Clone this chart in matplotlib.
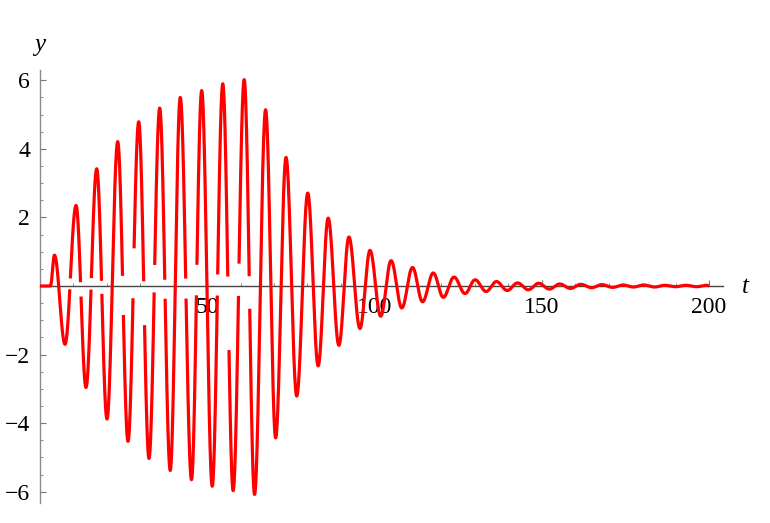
import matplotlib
matplotlib.use("Agg")
import matplotlib.pyplot as plt
import numpy as np

# turning points of the curve (t, y)
t_nodes = [0.0, 3.2,
           4.4, 7.56, 10.85, 13.83, 17.03, 20.1, 23.3, 26.38, 29.58, 32.65,
           35.85, 39.0, 42.0, 45.35, 48.4, 51.55, 54.7, 57.8, 61.1, 64.2,
           67.5, 70.5, 73.6, 76.8, 80.1, 83.2, 86.2, 89.4, 92.4, 95.7,
           98.7, 101.9, 105.0, 108.2, 111.4, 114.4, 117.6, 120.6, 123.8, 127.1,
           130.1, 133.4, 136.5, 139.7, 142.8, 146.0, 149.1, 152.3, 155.4, 158.6,
           161.7, 164.9, 168.0, 171.2, 174.3, 177.4, 180.5, 183.7, 186.8, 190.0,
           193.1, 196.3, 199.4, 200.0]
y_nodes = [0.0, 0.0,
           0.90, -1.70, 2.35, -2.96, 3.42, -3.88, 4.21, -4.53, 4.79, -5.03,
           5.19, -5.38, 5.50, -5.65, 5.70, -5.84, 5.90, -5.97, 6.02, -6.08,
           5.14, -4.43, 3.75, -3.21, 2.71, -2.33, 1.98, -1.73, 1.43, -1.24,
           1.04, -0.88, 0.74, -0.64, 0.54, -0.46, 0.38, -0.33, 0.26, -0.22,
           0.18, -0.16, 0.13, -0.13, 0.09, -0.11, 0.08, -0.09, 0.06, -0.07,
           0.05, -0.05, 0.04, -0.04, 0.03, -0.03, 0.03, -0.03, 0.02, -0.02,
           0.02, -0.02, 0.02, 0.0]

# gaps in the line at the zero crossings of the growing part
# (lower end, upper end) for the crossings after P1, T1, P2, ...
gap_lo = [0.0, -0.02, -0.21, -0.02, -0.10, 0.0, -0.70, -0.13, -1.12, -0.13,
          -0.17, 0.0, -0.17, -0.17, -0.02, -0.17, -1.74, -0.17, -0.55]
gap_hi = [0.0, 0.13, 0.10, 0.12, 0.12, 0.0, 0.15, 1.03, 0.12, 0.40,
          0.12, 0.0, 0.15, 0.58, 0.10, 0.22, 0.15, 0.40, 0.22]

x_ticks = [50, 100, 150, 200]
y_ticks = [-6, -4, -2, 2, 4, 6]

plt.rcParams['font.family'] = ['Liberation Serif', 'DejaVu Serif']

# half-cosine between turning points
tt = []
yy = []
for i in range(len(t_nodes) - 1):
    s = np.linspace(0, 1, 60, endpoint=False)
    seg_t = t_nodes[i] + (t_nodes[i + 1] - t_nodes[i]) * s
    seg_y = y_nodes[i] + (y_nodes[i + 1] - y_nodes[i]) * (1 - np.cos(np.pi * s)) / 2
    k = i - 2
    if 0 <= k < len(gap_lo) and gap_hi[k] > gap_lo[k]:
        seg_y = np.where((seg_y > gap_lo[k]) & (seg_y < gap_hi[k]), np.nan, seg_y)
    tt.append(seg_t)
    yy.append(seg_y)
tt.append([t_nodes[-1]])
yy.append([y_nodes[-1]])
tt = np.concatenate(tt)
yy = np.concatenate(yy)

fig = plt.figure(figsize=(7.7, 5.23), dpi=100)
ax = fig.add_axes([0.0516, 0.0382, 0.8874, 0.8279])

ax.plot(tt, yy, color='#ff0000', lw=2.3, zorder=3, solid_capstyle='butt')

ax.set_xlim(0, 204.2)
ax.set_ylim(-6.33, 6.30)

ax.spines['top'].set_visible(False)
ax.spines['right'].set_visible(False)
ax.spines['bottom'].set_position(('data', 0))
ax.spines['bottom'].set_color('#444444')
ax.spines['left'].set_color('#8a8a8a')
ax.spines['bottom'].set_linewidth(1.0)
ax.spines['left'].set_linewidth(1.0)

ax.set_xticks(x_ticks)
ax.set_xticks(np.arange(10, 201, 10), minor=True)
ax.set_yticks(y_ticks)
ax.set_yticks(np.arange(-6, 6.01, 0.5), minor=True)
ax.set_yticklabels([f"{v}".replace('-', '\u2212') for v in y_ticks])

ax.tick_params(axis='both', which='major', direction='in', length=4.5,
               width=0.8, color='#777777', labelsize=17)
ax.tick_params(axis='both', which='minor', direction='in', length=2.5,
               width=0.6, color='#777777')
ax.tick_params(axis='x', pad=8)
ax.tick_params(axis='y', pad=7)

ax.text(0.0, 1.058, 'y', transform=ax.transAxes, fontsize=18,
        style='italic', ha='center', va='center')
ax.text(1.027, 0.5, 't', transform=ax.transAxes, fontsize=18,
        style='italic', ha='left', va='center')

plt.savefig("out.png", dpi=100)
